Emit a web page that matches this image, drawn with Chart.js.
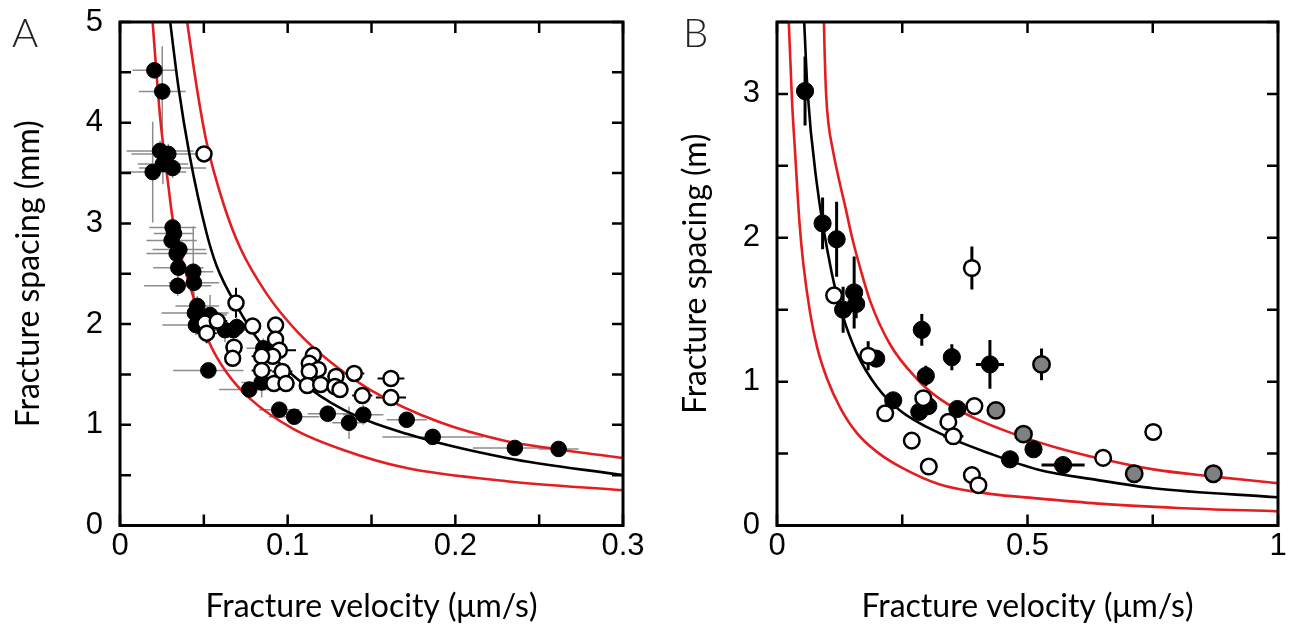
<!DOCTYPE html>
<html>
<head>
<meta charset="utf-8">
<script src="https://cdn.jsdelivr.net/npm/chart.js@4.4.0/dist/chart.umd.min.js"></script>
<style>
  body { margin: 0; background: #fff; }
  .fig { position: relative; width: 1291px; height: 635px; overflow: hidden; background: #fff; }
  .panel { position: absolute; top: 0; }
  .letter { position: absolute; top: 8px; font-family: Lato, sans-serif; font-weight: 300; font-size: 40px; color: #222; }
</style>
</head>
<body>
<div class="fig">
  <canvas id="chartA" class="panel" style="left:0" width="645" height="635"></canvas>
  <canvas id="chartB" class="panel" style="left:645px" width="646" height="635"></canvas>
  <div class="letter" style="left:12px">A</div>
  <div class="letter" style="left:683px">B</div>
</div>
<script>
// ---- panel A (laboratory, mm) ----
const aFilledX = [0.0205, 0.0252, 0.0239, 0.0288, 0.0314, 0.0195, 0.0256, 0.0314, 0.0322, 0.0308, 0.0354, 0.0338,
  0.0348, 0.0437, 0.0344, 0.0441, 0.0461, 0.0447, 0.0453, 0.0537, 0.0626, 0.0676, 0.0696, 0.0527, 0.0771, 0.0845,
  0.0855, 0.0950, 0.1039, 0.1239, 0.1366, 0.1451, 0.1710, 0.1865, 0.2355, 0.2616];
const aFilledY = [4.52, 4.31, 3.72, 3.69, 3.55, 3.51, 3.59, 2.96, 2.90, 2.83, 2.74, 2.70,
  2.56, 2.52, 2.38, 2.41, 2.18, 2.11, 1.99, 2.09, 1.94, 1.94, 1.97, 1.54, 1.35, 1.42,
  1.76, 1.15, 1.08, 1.11, 1.02, 1.10, 1.05, 0.88, 0.77, 0.76];
const aFilledXErr = [0.013, 0.014, 0.02, 0.022, 0.02, 0.02, 0.015, 0.014, 0.012, 0.015, 0.016, 0.018,
  0.015, 0.012, 0.02, 0.015, 0.013, 0.02, 0.02, 0.01, 0.008, 0.01, 0.008, 0.021, 0.018, 0.012,
  0.01, 0.012, 0.015, 0.012, 0.01, 0.012, 0.012, 0.03, 0.025, 0.012];
const aFilledYErr = [0.05, 0.45, 0.1, 0.1, 0.1, 0.5, 0.2, 0.1, 0.1, 0.1, 0.1, 0.1,
  0.1, 0.45, 0.1, 0.15, 0.1, 0.1, 0.1, 0.2, 0.12, 0.1, 0.1, 0.05, 0.05, 0.15,
  0.1, 0.05, 0.05, 0.08, 0.16, 0.1, 0.05, 0.05, 0.03, 0.05];

const aOpenX = [0.0501, 0.0692, 0.0507, 0.0580, 0.0517, 0.0791, 0.0928, 0.0928, 0.0950, 0.0911, 0.0845, 0.0680,
  0.0672, 0.0845, 0.0968, 0.0918, 0.0990, 0.1153, 0.1129, 0.1182, 0.1129, 0.1117, 0.1197, 0.1288, 0.1282, 0.1312,
  0.1397, 0.1445, 0.1616, 0.1616];
const aOpenY = [3.69, 2.21, 2.01, 2.03, 1.91, 1.98, 1.99, 1.85, 1.74, 1.68, 1.68, 1.77,
  1.66, 1.54, 1.53, 1.41, 1.41, 1.69, 1.61, 1.55, 1.53, 1.39, 1.40, 1.48, 1.38, 1.35,
  1.51, 1.29, 1.46, 1.27];
const aOpenXErr = [0.003, 0.004, 0.006, 0.006, 0.006, 0.004, 0.004, 0.005, 0.01, 0.005, 0.006, 0.005,
  0.004, 0.006, 0.006, 0.004, 0.005, 0.005, 0.005, 0.005, 0.004, 0.004, 0.005, 0.005, 0.005, 0.005,
  0.006, 0.006, 0.008, 0.009];
const aOpenYErr = [0.08, 0.15, 0.05, 0.05, 0.1, 0.05, 0.05, 0.05, 0.05, 0.05, 0.08, 0.05,
  0.05, 0.05, 0.05, 0.05, 0.05, 0.04, 0.04, 0.04, 0.04, 0.04, 0.04, 0.04, 0.04, 0.04,
  0.04, 0.04, 0.03, 0.03];

// fitted curves
const aFitX = [0.0292, 0.0348, 0.0417, 0.0517, 0.0576, 0.0696, 0.0835, 0.1054, 0.1332, 0.171, 0.2306, 0.3];
const aFitY = [5.1, 4.36, 3.66, 2.90, 2.58, 2.18, 1.82, 1.46, 1.15, 0.91, 0.67, 0.50];
const aUpperX = [0.0392, 0.0457, 0.0517, 0.0616, 0.0716, 0.0875, 0.1054, 0.125, 0.15, 0.19, 0.23, 0.26, 0.3];
const aUpperY = [5.1, 4.36, 3.8, 3.2, 2.76, 2.3, 1.93, 1.63, 1.34, 1.03, 0.84, 0.76, 0.67];
const aLowerX = [0.019, 0.0239, 0.0288, 0.0318, 0.0368, 0.0417, 0.0477, 0.0537, 0.0636, 0.0775, 0.1033, 0.1332, 0.171, 0.2306, 0.3];
const aLowerY = [5.1, 4.06, 3.38, 3.0, 2.65, 2.38, 2.07, 1.80, 1.52, 1.26, 0.96, 0.75, 0.57, 0.44, 0.35];

const aXTickLabels = ['0', '0.1', '0.2', '0.3'];
const aYTickLabels = ['0', '1', '2', '3', '4', '5'];

// ---- panel B (field, m) ----
const bFilledX = [0.056, 0.091, 0.119, 0.154, 0.158, 0.132, 0.198, 0.289, 0.349, 0.425, 0.297, 0.232,
  0.284, 0.302, 0.360, 0.465, 0.512, 0.571];
const bFilledY = [3.02, 2.10, 1.99, 1.62, 1.54, 1.50, 1.16, 1.36, 1.17, 1.12, 1.04, 0.87,
  0.79, 0.83, 0.81, 0.46, 0.53, 0.42];
const bFilledXErr = [0, 0, 0, 0, 0, 0, 0, 0.012, 0.005, 0.028, 0, 0,
  0, 0, 0, 0, 0, 0.043];
const bFilledYErr = [0.24, 0.18, 0.26, 0.25, 0.1, 0.16, 0, 0.11, 0.09, 0.17, 0.07, 0,
  0.05, 0, 0, 0, 0, 0];

const bOpenX = [0.389, 0.114, 0.182, 0.216, 0.292, 0.394, 0.342, 0.352, 0.269, 0.303, 0.389, 0.402, 0.651, 0.751];
const bOpenY = [1.79, 1.60, 1.18, 0.78, 0.885, 0.83, 0.72, 0.62, 0.59, 0.41, 0.35, 0.28, 0.47, 0.65];
const bOpenXErr = [0, 0, 0.012, 0, 0, 0, 0, 0.02, 0, 0, 0.015, 0, 0, 0];
const bOpenYErr = [0.15, 0, 0.1, 0, 0.05, 0.05, 0, 0.04, 0, 0, 0, 0, 0, 0];

const bGrayX = [0.437, 0.492, 0.528, 0.713, 0.871];
const bGrayY = [0.80, 0.635, 1.12, 0.36, 0.36];
const bGrayXErr = [0, 0, 0, 0, 0];
const bGrayYErr = [0.03, 0, 0.11, 0, 0];

const bFitX = [0.053, 0.061, 0.079, 0.109, 0.132, 0.159, 0.199, 0.2455, 0.325, 0.425, 0.52, 0.638, 0.751, 1.0];
const bFitY = [3.6, 3.02, 2.39, 1.76, 1.45, 1.20, 0.966, 0.80, 0.64, 0.50, 0.39, 0.317, 0.259, 0.196];
const bUpperX = [0.093, 0.095, 0.098, 0.1025, 0.112, 0.124, 0.136, 0.150, 0.166, 0.186, 0.2255, 0.279, 0.325, 0.392,
  0.478, 0.55, 0.651, 0.751, 0.871, 1.0];
const bUpperY = [3.6, 3.3, 3.0, 2.8, 2.6, 2.4, 2.22, 2.0, 1.79, 1.56, 1.26, 1.02, 0.88, 0.75,
  0.63, 0.55, 0.46, 0.39, 0.34, 0.294];
const bLowerX = [0.023, 0.03, 0.036, 0.045, 0.0525, 0.066, 0.08, 0.1, 0.126, 0.16, 0.2, 0.25, 0.325, 0.425, 0.525, 0.65, 0.8, 1.0];
const bLowerY = [3.55, 2.95, 2.6, 2.1, 1.82, 1.48, 1.24, 1.02, 0.82, 0.64, 0.51, 0.40, 0.285, 0.22, 0.187, 0.15, 0.122, 0.098];

const bXTickLabels = ['0', '0.5', '1'];
const bYTickLabels = ['0', '1', '2', '3'];

const RED = '#e41e20';
const tickFont = { family: 'Liberation Sans', size: 31 };
const titleFont = { family: 'Lato', size: 32 };

const pts = (xs, ys) => xs.map((x, i) => ({ x: x, y: ys[i] }));

// error bars drawn under the markers
const errorBars = {
  id: 'errorBars',
  beforeDatasetsDraw(chart) {
    const { ctx, chartArea: a, scales: { x, y } } = chart;
    ctx.save();
    ctx.beginPath();
    ctx.rect(a.left, a.top, a.width, a.height);
    ctx.clip();
    chart.data.datasets.forEach(ds => {
      if (!ds.xErr) return;
      ctx.strokeStyle = ds.errColor;
      ctx.lineWidth = ds.errWidth;
      ds.data.forEach((p, i) => {
        const cx = x.getPixelForValue(p.x), cy = y.getPixelForValue(p.y);
        ctx.beginPath();
        if (ds.xErr[i]) {
          ctx.moveTo(x.getPixelForValue(p.x - ds.xErr[i]), cy);
          ctx.lineTo(x.getPixelForValue(p.x + ds.xErr[i]), cy);
        }
        if (ds.yErr[i]) {
          ctx.moveTo(cx, y.getPixelForValue(p.y - ds.yErr[i]));
          ctx.lineTo(cx, y.getPixelForValue(p.y + ds.yErr[i]));
        }
        ctx.stroke();
      });
    });
    ctx.restore();
  }
};

// box frame with inward ticks on all four sides
const frameTicks = {
  id: 'frameTicks',
  afterDatasetsDraw(chart) {
    const { ctx, chartArea: a, scales: { x, y } } = chart;
    const len = 11;
    ctx.save();
    ctx.strokeStyle = '#000';
    ctx.lineWidth = 2.5;
    ctx.beginPath();
    x.ticks.forEach(t => {
      const px = x.getPixelForValue(t.value);
      ctx.moveTo(px, a.bottom); ctx.lineTo(px, a.bottom - len);
      ctx.moveTo(px, a.top); ctx.lineTo(px, a.top + len);
    });
    y.ticks.forEach(t => {
      const py = y.getPixelForValue(t.value);
      ctx.moveTo(a.left, py); ctx.lineTo(a.left + len, py);
      ctx.moveTo(a.right, py); ctx.lineTo(a.right - len, py);
    });
    ctx.stroke();
    ctx.lineWidth = 3;
    ctx.strokeRect(a.left, a.top, a.right - a.left, a.bottom - a.top);
    ctx.restore();
  }
};

function labelFrom(list) {
  return v => {
    const hit = list.find(s => Math.abs(Number(s) - v) < 1e-6);
    return hit === undefined ? '' : hit;
  };
}

// fixed scale boxes so the plot area lands where the figure has it
function fixBox(prop, size) {
  return s => {
    s[prop] = size;
    s.paddingTop = 0; s.paddingBottom = 0; s.paddingLeft = 0; s.paddingRight = 0;
  };
}

function markers(xs, ys, xe, ye, fill, radius, errColor, errWidth) {
  return {
    type: 'scatter', data: pts(xs, ys), xErr: xe, yErr: ye, errColor: errColor, errWidth: errWidth,
    backgroundColor: fill, borderColor: '#000', borderWidth: fill === '#000' ? 1 : 2.5,
    pointRadius: radius, pointHoverRadius: radius, order: 1
  };
}

function curve(xs, ys, color) {
  return {
    type: 'line', data: pts(xs, ys), borderColor: color, borderWidth: 2.6, pointRadius: 0,
    fill: false, cubicInterpolationMode: 'monotone', order: 5
  };
}

function options(cfg) {
  return {
    responsive: false,
    animation: false,
    events: [],
    layout: { padding: { top: 22, right: cfg.padRight, left: 0, bottom: 0 } },
    plugins: { legend: { display: false }, tooltip: { enabled: false } },
    scales: {
      x: {
        type: 'linear', min: 0, max: cfg.xMax,
        afterFit: fixBox('height', 109.5),
        grid: { display: false, drawTicks: false }, border: { display: false },
        ticks: { stepSize: cfg.xStep, autoSkip: false, maxRotation: 0, padding: 2, color: '#000', font: tickFont,
          callback: labelFrom(cfg.xLabels) },
        title: { display: true, text: 'Fracture velocity (μm/s)', color: '#000', font: titleFont,
          padding: { top: 0, bottom: 9 } }
      },
      y: {
        type: 'linear', min: 0, max: cfg.yMax,
        afterFit: fixBox('width', cfg.yWidth),
        grid: { display: false, drawTicks: false }, border: { display: false },
        ticks: { stepSize: 0.5, autoSkip: false, padding: 17, color: '#000', font: tickFont,
          callback: labelFrom(cfg.yLabels) },
        title: { display: true, text: cfg.yTitle, color: '#000', font: titleFont,
          padding: { top: cfg.yTitlePad, bottom: 0 } }
      }
    }
  };
}

new Chart(document.getElementById('chartA'), {
  type: 'scatter',
  data: {
    datasets: [
      markers(aOpenX, aOpenY, aOpenXErr, aOpenYErr, '#fff', 7.5, '#000', 2),
      markers(aFilledX, aFilledY, aFilledXErr, aFilledYErr, '#000', 7.8, '#8c8c8c', 1.5),
      curve(aFitX, aFitY, '#000'),
      curve(aUpperX, aUpperY, RED),
      curve(aLowerX, aLowerY, RED)
    ]
  },
  options: options({ xMax: 0.3, xStep: 0.05, yMax: 5, xLabels: aXTickLabels, yLabels: aYTickLabels,
    yTitle: 'Fracture spacing (mm)', padRight: 22, yWidth: 120, yTitlePad: 9 }),
  plugins: [errorBars, frameTicks]
});

new Chart(document.getElementById('chartB'), {
  type: 'scatter',
  data: {
    datasets: [
      markers(bGrayX, bGrayY, bGrayXErr, bGrayYErr, '#808080', 8.2, '#000', 3),
      markers(bOpenX, bOpenY, bOpenXErr, bOpenYErr, '#fff', 7.8, '#000', 3),
      markers(bFilledX, bFilledY, bFilledXErr, bFilledYErr, '#000', 8.6, '#000', 3),
      curve(bFitX, bFitY, '#000'),
      curve(bUpperX, bUpperY, RED),
      curve(bLowerX, bLowerY, RED)
    ]
  },
  options: options({ xMax: 1, xStep: 0.25, yMax: 3.5, xLabels: bXTickLabels, yLabels: bYTickLabels,
    yTitle: 'Fracture spacing (m)', padRight: 13, yWidth: 132, yTitlePad: 31 }),
  plugins: [errorBars, frameTicks]
});
</script>
</body>
</html>
